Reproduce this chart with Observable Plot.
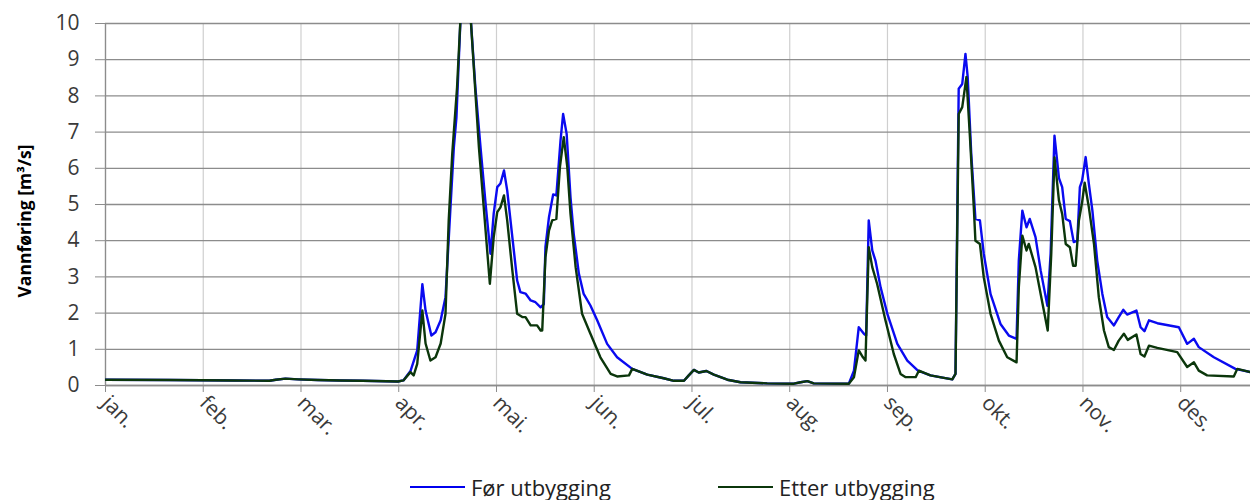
<!DOCTYPE html>
<html>
<head>
<meta charset="utf-8">
<script src="https://cdn.jsdelivr.net/npm/d3@7"></script>
<script src="https://cdn.jsdelivr.net/npm/@observablehq/plot@0.6"></script>
<style>
  html, body { margin: 0; padding: 0; background: #fff; }
  #chart { width: 1250px; height: 450px; position: relative; }
  #legend { height: 50px; position: relative; font-family: "Open Sans", sans-serif; font-size: 22px; color: #222; }
  .item { display: flex; align-items: center; position: absolute; line-height: 1; }
  .sw { width: 55px; height: 0; border-top: 2.5px solid; margin-right: 6px; }
</style>
</head>
<body>
<div id="chart"></div>
<div id="legend">
  <div class="item" style="left:410px; top:26px"><span class="sw" style="border-color:#0000ee"></span>Før utbygging</div>
  <div class="item" style="left:718px; top:26px"><span class="sw" style="border-color:#0b360b"></span>Etter utbygging</div>
</div>
<script>
const monthLabels = ["jan.","feb.","mar.","apr.","mai.","jun.","jul.","aug.","sep.","okt.","nov.","des."];
const yTicks = [0,1,2,3,4,5,6,7,8,9,10];
const yLabel = "Vannføring [m³/s]";
const seriesNames = ["Før utbygging", "Etter utbygging"];

// [day of year, discharge m³/s]
const forUtbygging = [
  [0,0.16],[20,0.15],[40,0.14],[51,0.13],[53,0.16],[56,0.19],[60,0.17],[66,0.15],[73,0.14],[80,0.13],
  [91,0.11],[92.7,0.14],[94.9,0.4],[97.0,0.97],[98.6,2.8],[99.6,2.07],[101.4,1.38],[102.7,1.47],[104.3,1.8],[105.8,2.44],
  [107.4,5.0],[108.4,6.58],[109.2,7.4],[110.5,10.2],[112,11.4],[113.6,10.2],[115.1,8.24],[116.7,6.58],[118.3,5.0],[119.8,3.64],
  [120.8,4.75],[121.9,5.48],[122.9,5.58],[124.0,5.94],[125.0,5.39],[126.6,4.1],[128.1,2.9],[129.1,2.58],[130.7,2.54],[132.3,2.35],
  [133.8,2.3],[135.4,2.16],[136.4,2.25],[136.9,3.82],[138.0,4.65],[139.3,5.28],[140.3,5.25],[141.6,6.77],[142.4,7.5],[143.5,6.95],
  [144.7,5.2],[145.7,4.19],[147.3,3.09],[148.8,2.53],[150.9,2.21],[153.0,1.8],[156.1,1.15],[159.2,0.78],[163.9,0.46],[168.6,0.30],
  [173.7,0.2],[176.9,0.13],[180.0,0.13],[181.5,0.28],[183.1,0.43],[184.6,0.36],[187.0,0.4],[189.3,0.3],[193.5,0.16],[197.6,0.09],
  [205.9,0.06],[214.2,0.05],[216.3,0.09],[218.4,0.12],[220.4,0.06],[231.3,0.05],[232.9,0.41],[234.4,1.61],[236.0,1.43],[236.7,1.38],
  [237.5,4.56],[238.6,3.73],[239.6,3.45],[241.2,2.71],[243.3,1.98],[246.4,1.15],[249.5,0.69],[252.8,0.41],[256.7,0.28],[260.9,0.21],
  [263.5,0.17],[264.5,0.32],[265.5,8.2],[266.6,8.33],[267.6,9.16],[268.3,8.52],[269.4,6.4],[270.7,4.6],[272.1,4.56],[273.3,3.64],
  [275.4,2.53],[278.5,1.7],[281.1,1.38],[283.5,1.29],[284.2,3.45],[285.3,4.83],[286.6,4.37],[287.6,4.6],[289.4,4.1],[291.0,3.18],
  [293.1,2.2],[294.1,3.64],[295.3,6.9],[296.7,5.73],[297.7,5.48],[298.8,4.6],[300.1,4.54],[301.3,3.96],[302.4,4.0],[303.2,5.48],
  [303.9,5.66],[305.0,6.31],[306.0,5.57],[307.1,4.83],[308.6,3.45],[310.2,2.53],[311.7,1.89],[313.8,1.66],[315.3,1.89],[316.7,2.09],
  [317.9,1.96],[320.8,2.07],[322.1,1.61],[323.3,1.5],[324.7,1.8],[327.3,1.72],[334.0,1.61],[336.6,1.15],[338.7,1.29],[340.2,1.06],
  [344.9,0.78],[351.6,0.46],[356.3,0.37]
];

const etterUtbygging = [
  [0,0.16],[20,0.15],[40,0.14],[51,0.13],[53,0.16],[56,0.19],[60,0.17],[66,0.15],[73,0.14],[80,0.13],
  [91,0.11],[92.7,0.14],[94.9,0.37],[95.9,0.28],[97.0,0.6],[98.6,2.07],[99.6,1.16],[101.1,0.69],[102.7,0.78],[104.3,1.16],
  [105.8,1.98],[106.8,4.56],[107.9,6.4],[109.4,8.24],[110.5,10.2],[112,11.4],[113.6,10.2],[115.1,8.1],[116.2,6.58],[117.7,4.92],
  [119.6,2.81],[120.8,4.1],[121.9,4.79],[122.9,4.92],[124.0,5.25],[125.0,4.56],[126.6,3.18],[128.1,1.98],[129.7,1.89],[130.7,1.89],
  [132.3,1.66],[134.3,1.66],[135.4,1.52],[135.9,1.52],[136.9,3.54],[138.0,4.28],[139.0,4.56],[140.3,4.6],[141.4,6.03],[142.6,6.86],
  [143.7,6.03],[144.7,4.74],[146.3,3.27],[148.3,1.98],[150.9,1.43],[154.0,0.78],[157.2,0.32],[159.2,0.25],[162.9,0.28],[163.9,0.46],
  [168.6,0.30],[173.7,0.2],[176.9,0.13],[180.0,0.13],[181.5,0.28],[183.1,0.43],[184.6,0.36],[187.0,0.4],[189.3,0.3],[193.5,0.16],
  [197.6,0.09],[205.9,0.06],[214.2,0.05],[216.3,0.09],[218.4,0.12],[220.4,0.06],[231.3,0.05],[232.9,0.23],[234.4,0.97],[235.7,0.78],
  [236.5,0.69],[237.5,3.82],[238.6,3.27],[240.1,2.81],[242.7,1.8],[245.3,0.87],[247.4,0.32],[249.0,0.23],[252.1,0.23],[253.1,0.41],
  [256.7,0.28],[260.9,0.21],[263.5,0.17],[264.5,0.32],[265.5,7.5],[266.6,7.69],[267.9,8.52],[269.0,6.86],[270.2,4.92],[270.7,4.0],
  [272.1,3.91],[273.3,2.99],[275.4,1.98],[278.0,1.24],[280.6,0.78],[283.5,0.64],[284.2,2.71],[285.3,4.14],[286.6,3.73],[287.3,3.91],
  [289.4,3.27],[291.0,2.53],[293.2,1.52],[294.3,3.64],[295.3,6.3],[296.7,5.11],[297.7,4.74],[298.8,3.91],[300.1,3.82],[301.1,3.31],
  [301.9,3.31],[302.9,4.56],[303.9,5.06],[304.7,5.6],[306.0,4.92],[307.6,3.91],[309.1,2.44],[310.7,1.52],[312.2,1.06],[313.8,0.98],
  [315.3,1.24],[316.9,1.43],[318.1,1.26],[320.8,1.41],[322.1,0.87],[323.3,0.8],[324.7,1.1],[327.3,1.04],[333.5,0.92],[336.6,0.51],
  [338.7,0.64],[340.2,0.41],[342.8,0.28],[351.1,0.25],[352.2,0.46],[356.3,0.37]
];

const monthStarts = monthLabels.map((_, i) => i * 365 / 12);
const labelOf = new Map(monthStarts.map((d, i) => [d, monthLabels[i]]));

const chart = Plot.plot({
  width: 1250,
  height: 450,
  marginLeft: 105,
  marginRight: 0,
  marginTop: 23,
  marginBottom: 65,
  style: { fontFamily: "'Open Sans', sans-serif", background: "#fff", overflow: "visible" },
  x: { domain: [0, 356.3] },
  y: { domain: [0, 10] },
  marks: [
    Plot.gridX(monthStarts, { stroke: "#cfcfcf", strokeOpacity: 1, strokeWidth: 1.2 }),
    Plot.gridY(yTicks, { stroke: "#8c8c8c", strokeOpacity: 1, strokeWidth: 1.3 }),
    Plot.axisY(yTicks, { tickSize: 10, tickPadding: 16, fontSize: 21, color: "#3a3a3a", stroke: "#8c8c8c", label: null }),
    Plot.axisX(monthStarts, { tickSize: 7, tickPadding: 7, tickRotate: 45, fontSize: 21, color: "#3a3a3a",
      stroke: "#8c8c8c", tickFormat: d => labelOf.get(d), label: null }),
    Plot.ruleX([0], { stroke: "#8c8c8c", strokeWidth: 1.3 }),
    Plot.ruleY([0], { stroke: "#8c8c8c", strokeWidth: 1.3 }),
    Plot.line(forUtbygging, { x: d => d[0], y: d => d[1], stroke: "#0a0af0", strokeWidth: 2.4, clip: true }),
    Plot.line(etterUtbygging, { x: d => d[0], y: d => d[1], stroke: "#0b360b", strokeWidth: 2.4, clip: true })
  ]
});

d3.select(chart).append("text")
  .attr("transform", "translate(31,221) rotate(-90)")
  .attr("text-anchor", "middle")
  .attr("font-family", "'Open Sans', sans-serif")
  .attr("font-weight", "bold")
  .attr("font-size", 17.5)
  .attr("fill", "#000")
  .text(yLabel);

document.getElementById("chart").appendChild(chart);
</script>
</body>
</html>
